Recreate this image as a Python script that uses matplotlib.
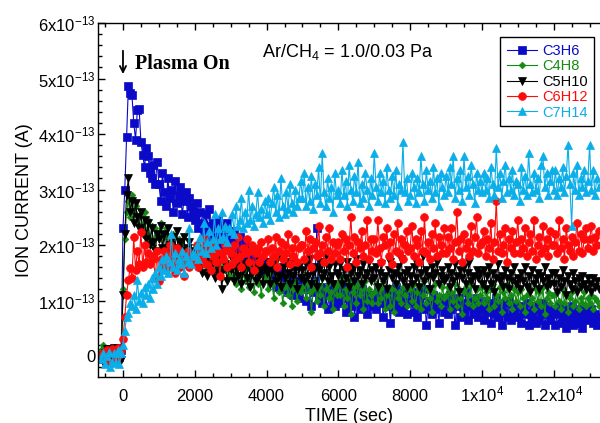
import numpy as np
import matplotlib
matplotlib.use("Agg")
import matplotlib.pyplot as plt
from matplotlib.ticker import MultipleLocator, FuncFormatter

plt.rcParams['font.family'] = ['Liberation Sans', 'DejaVu Sans']
plt.rcParams['mathtext.fontset'] = 'custom'
plt.rcParams['mathtext.rm'] = 'Liberation Sans'
plt.rcParams['mathtext.it'] = 'Liberation Sans:italic'
plt.rcParams['mathtext.bf'] = 'Liberation Sans:bold'

# ---- time axis (s) ----
t_pre = list(range(-600, 0, 50))          # before plasma
t_early = list(range(0, 1000, 50))        # ignition
t_late = list(range(1000, 13300, 50))     # steady part
time = np.array(t_pre + t_early + t_late, dtype=float)

SCALE = 1e-13  # values below are in units of 1e-13 A

# ---- C3H6 ----
c3h6_pre = [0.05, -0.05, 0.1, 0.0, -0.08, 0.12, 0.02, -0.06, 0.08, 0.15, -0.02, 0.1]
c3h6_early = [2.3, 3.0, 3.95, 4.86, 4.74, 4.7, 4.2, 3.9, 4.43, 4.45,
              3.86, 3.62, 3.4, 3.75, 3.6, 3.3, 3.2, 3.45, 3.1, 3.5]
c3h6_late = [3.1, 2.8, 3.3, 2.95, 2.7, 3.2, 2.85, 3.0, 2.6, 3.15, 2.75, 2.9, 3.05, 2.55, 2.8, 2.95, 2.5, 2.85, 2.7, 2.6,
             2.45, 2.75, 2.3, 2.6, 2.4, 2.2, 2.55, 2.35, 2.65, 2.15, 2.4, 2.3, 2.05, 2.45, 2.2, 2.35, 2.0, 2.25, 2.4, 2.1,
             2.1, 1.9, 2.25, 2.0, 1.8, 2.15, 1.95, 1.75, 2.05, 1.85, 1.7, 1.95, 1.6, 1.8, 1.9, 1.65, 1.75, 1.5, 1.7, 1.6,
             1.55, 1.7, 1.4, 1.6, 1.35, 1.5, 1.25, 1.45, 1.55, 1.2, 1.35, 1.4, 1.15, 1.3, 1.45, 1.1, 1.25, 1.35, 1.05, 1.3,
             1.25, 1.4, 1.0, 1.2, 1.3, 0.9, 1.15, 1.35, 2.3, 1.05, 1.2, 0.95, 1.25, 1.1, 0.85, 1.15, 1.3, 1.0, 0.9, 1.1,
             1.2, 0.95, 1.1, 1.25, 0.8, 1.05, 1.15, 0.9, 1.3, 0.7, 1.0, 1.15, 0.85, 1.2, 0.95, 1.05, 0.75, 1.1, 1.0, 0.9,
             1.1, 0.85, 1.2, 0.95, 1.05, 0.7, 1.15, 0.9, 1.0, 0.6, 1.1, 0.85, 1.25, 0.95, 0.8, 1.05, 0.9, 1.15, 0.75, 1.0,
             0.95, 1.15, 0.8, 1.05, 0.7, 0.95, 1.1, 0.85, 1.2, 0.55, 0.9, 1.0, 0.75, 1.1, 0.85, 0.95, 0.6, 1.05, 0.9, 0.8,
             1.0, 0.75, 1.1, 0.85, 0.95, 0.55, 0.9, 1.05, 0.7, 0.95, 0.8, 1.15, 0.65, 0.9, 1.0, 0.75, 0.85, 1.05, 0.7, 0.9,
             0.85, 0.65, 1.0, 0.8, 0.95, 0.6, 0.85, 0.75, 1.05, 0.7, 0.9, 0.55, 0.8, 0.95, 0.7, 1.0, 0.65, 0.85, 0.75, 0.9,
             0.7, 0.9, 0.6, 0.85, 0.75, 0.95, 0.55, 0.8, 0.7, 0.9, 0.6, 0.85, 0.65, 0.8, 0.95, 0.55, 0.75, 0.85, 0.65, 0.8,
             0.8, 0.55, 0.75, 0.9, 0.6, 0.7, 0.85, 0.5, 0.75, 0.65, 0.9, 0.55, 0.8, 0.7, 0.6, 0.85, 0.5, 0.75, 0.65, 0.8,
             0.7, 0.85, 0.6, 0.75, 0.55, 0.7]

# ---- C4H8 ----
c4h8_pre = [0.1, 0.2, -0.05, 0.08, 0.15, 0.0, -0.1, 0.12, 0.05, 0.1, -0.05, 0.08]
c4h8_early = [1.2, 2.1, 2.6, 2.8, 2.5, 2.9, 2.6, 2.7, 2.4, 2.5,
              2.55, 2.3, 2.6, 2.2, 2.45, 2.1, 2.35, 2.0, 2.3, 2.15]
c4h8_late = [2.2, 2.4, 1.95, 2.15, 2.3, 1.9, 2.05, 1.8, 2.2, 1.95, 1.75, 2.1, 1.9, 2.0, 1.7, 1.95, 1.85, 1.65, 1.9, 1.8,
             1.9, 1.7, 1.85, 1.6, 1.95, 1.75, 1.5, 1.8, 1.65, 1.85, 1.55, 1.7, 1.45, 1.75, 1.6, 1.4, 1.7, 1.55, 1.65, 1.45,
             1.65, 1.4, 1.55, 1.3, 1.6, 1.45, 1.2, 1.5, 1.35, 1.6, 1.25, 1.45, 1.55, 1.15, 1.4, 1.3, 1.5, 1.1, 1.35, 1.45,
             1.4, 1.2, 1.5, 1.3, 1.05, 1.35, 1.45, 1.15, 1.3, 0.95, 1.25, 1.4, 1.1, 1.3, 0.9, 1.2, 1.35, 1.0, 1.25, 1.15,
             1.25, 1.4, 1.05, 1.3, 1.15, 0.8, 1.2, 1.35, 1.0, 1.25, 1.1, 1.4, 0.9, 1.2, 1.3, 1.05, 1.15, 0.85, 1.25, 1.1,
             1.3, 1.1, 1.4, 0.9, 1.2, 1.05, 1.35, 0.75, 1.15, 1.25, 0.95, 1.3, 1.1, 1.2, 0.85, 1.35, 1.0, 1.2, 1.1, 0.95,
             1.15, 1.3, 0.95, 1.2, 1.05, 1.35, 0.85, 1.1, 1.25, 0.9, 1.2, 0.8, 1.3, 1.05, 1.15, 0.95, 1.25, 1.1, 0.9, 1.2,
             1.2, 1.0, 1.3, 0.9, 1.15, 1.25, 0.85, 1.1, 1.35, 0.95, 1.2, 1.05, 0.8, 1.15, 1.3, 1.0, 1.1, 0.9, 1.25, 1.05,
             1.1, 1.25, 0.85, 1.15, 1.0, 1.3, 0.9, 1.2, 1.05, 0.75, 1.15, 1.25, 0.95, 1.1, 1.3, 0.9, 1.05, 1.2, 0.95, 1.1,
             1.25, 0.95, 1.15, 1.05, 0.85, 1.2, 1.3, 0.9, 1.1, 1.0, 1.25, 0.8, 1.15, 1.05, 1.3, 0.95, 1.1, 0.85, 1.2, 1.0,
             1.15, 0.9, 1.2, 1.05, 0.8, 1.1, 1.25, 0.95, 1.05, 0.85, 1.2, 1.0, 1.15, 0.9, 1.25, 0.75, 1.05, 1.15, 0.95, 1.1,
             1.1, 0.9, 1.15, 1.0, 0.85, 1.2, 0.95, 1.1, 0.8, 1.05, 1.15, 0.9, 1.0, 1.2, 0.85, 1.05, 0.95, 1.15, 0.9, 1.05,
             0.95, 1.1, 0.85, 1.05, 1.0, 0.9]

# ---- C5H10 ----
c5h10_pre = [0.0, -0.1, 0.05, 0.12, -0.05, 0.1, -0.12, 0.15, 0.08, 0.0, 0.12, -0.08]
c5h10_early = [1.1, 2.2, 2.9, 3.2, 2.6, 2.8, 2.4, 2.75, 2.5, 2.3,
               2.6, 2.2, 2.45, 2.1, 2.4, 2.0, 2.3, 2.05, 1.9, 2.2]
c5h10_late = [2.1, 2.35, 1.95, 2.2, 1.85, 2.3, 2.0, 1.8, 2.15, 1.95, 2.25, 1.75, 2.05, 1.9, 2.15, 1.7, 1.95, 2.05, 1.8, 1.9,
              1.75, 1.95, 1.6, 1.85, 1.5, 1.75, 1.9, 1.45, 1.7, 1.6, 1.8, 1.4, 1.65, 1.5, 1.75, 1.2, 1.55, 1.65, 1.35, 1.6,
              1.55, 1.75, 1.35, 1.6, 1.45, 1.8, 1.3, 1.55, 1.65, 1.4, 1.7, 1.25, 1.5, 1.6, 1.35, 1.75, 1.45, 1.55, 1.3, 1.6,
              1.5, 1.7, 1.3, 1.55, 1.65, 1.35, 1.75, 1.45, 1.25, 1.6, 1.4, 1.7, 1.5, 1.3, 1.65, 1.45, 1.55, 1.2, 1.6, 1.4,
              1.55, 1.35, 1.65, 1.45, 1.75, 1.3, 1.5, 1.6, 1.25, 1.55, 1.7, 1.4, 1.5, 1.8, 1.35, 1.6, 1.45, 1.3, 1.65, 1.5,
              1.45, 1.65, 1.3, 1.55, 1.4, 1.7, 1.25, 1.5, 1.6, 1.35, 1.75, 1.45, 1.55, 1.3, 1.65, 1.4, 1.5, 1.7, 1.35, 1.55,
              1.4, 1.6, 1.25, 1.5, 1.65, 1.35, 1.45, 1.2, 1.55, 1.7, 1.4, 1.5, 1.3, 1.6, 1.45, 1.75, 1.35, 1.5, 1.25, 1.55,
              1.45, 1.3, 1.6, 1.4, 1.65, 1.25, 1.5, 1.8, 1.35, 1.55, 1.45, 1.2, 1.6, 1.4, 1.5, 1.7, 1.3, 1.45, 1.55, 1.35,
              1.4, 1.6, 1.25, 1.5, 1.35, 1.65, 1.45, 1.15, 1.55, 1.4, 1.6, 1.3, 1.5, 1.7, 1.35, 1.45, 1.2, 1.55, 1.4, 1.5,
              1.3, 1.55, 1.2, 1.45, 1.6, 1.3, 1.5, 1.15, 1.4, 1.65, 1.35, 1.45, 1.25, 1.55, 1.4, 1.2, 1.5, 1.35, 1.6, 1.3,
              1.4, 1.2, 1.5, 1.35, 1.6, 1.25, 1.45, 1.15, 1.55, 1.3, 1.4, 1.5, 1.2, 1.45, 1.35, 1.6, 1.25, 1.4, 1.3, 1.5,
              1.3, 1.5, 1.15, 1.4, 1.25, 1.55, 1.35, 1.1, 1.45, 1.3, 1.2, 1.5, 1.35, 1.15, 1.4, 1.25, 1.45, 1.3, 1.2, 1.4,
              1.3, 1.15, 1.4, 1.25, 1.35, 1.2]

# ---- C6H12 ----
c6h12_pre = [0.0, 0.05, -0.05, 0.1, -0.1, 0.08, 0.12, 0.05, -0.08, 0.15, 0.02, 0.1]
c6h12_early = [0.3, 0.7, 1.1, 1.37, 1.59, 1.4, 2.14, 1.55, 1.9, 1.65,
               2.24, 1.6, 2.0, 1.7, 1.85, 1.65, 1.8, 1.75, 1.4, 1.9]
c6h12_late = [1.35, 1.75, 1.6, 1.9, 1.55, 1.8, 2.0, 1.65, 1.85, 1.5, 1.95, 1.7, 1.6, 1.85, 1.45, 1.75, 1.9, 1.6, 1.8, 1.7,
              1.8, 2.0, 1.6, 1.9, 1.75, 2.1, 1.65, 1.85, 1.95, 1.55, 1.8, 2.05, 1.7, 1.9, 1.45, 1.85, 1.75, 2.0, 1.6, 1.9,
              1.85, 1.65, 2.0, 1.75, 2.15, 1.8, 1.6, 1.95, 1.85, 2.1, 1.7, 1.9, 2.0, 1.55, 1.85, 1.95, 1.7, 2.05, 1.8, 1.9,
              1.9, 2.1, 1.7, 1.95, 1.8, 2.15, 1.6, 1.9, 2.05, 1.75, 2.0, 1.85, 2.2, 1.65, 1.95, 1.8, 2.1, 1.7, 1.95, 2.0,
              2.0, 1.75, 2.25, 1.9, 2.1, 1.6, 1.95, 2.05, 1.8, 2.35, 1.85, 2.0, 1.7, 2.15, 1.9, 2.3, 1.75, 2.05, 1.85, 2.0,
              2.05, 1.75, 2.2, 1.9, 2.1, 1.6, 2.0, 2.5, 1.85, 2.15, 1.7, 2.05, 1.95, 2.25, 1.8, 2.0, 2.45, 1.75, 2.1, 1.9,
              2.1, 1.85, 2.45, 1.95, 1.7, 2.15, 2.0, 2.3, 1.8, 2.05, 1.65, 2.2, 1.9, 2.4, 1.85, 2.1, 1.75, 2.0, 2.25, 1.9,
              1.95, 2.35, 1.8, 2.1, 2.0, 1.7, 2.25, 1.9, 2.5, 1.85, 2.05, 1.75, 2.2, 1.95, 2.4, 1.8, 2.15, 2.0, 1.85, 2.3,
              1.85, 2.15, 1.95, 2.3, 1.75, 2.05, 2.6, 1.9, 2.1, 1.7, 2.2, 1.95, 2.05, 1.8, 2.35, 1.9, 2.15, 2.5, 1.85, 2.0,
              2.05, 2.25, 1.8, 2.1, 1.95, 2.4, 1.75, 2.05, 2.8, 1.9, 2.2, 1.85, 2.0, 2.3, 1.7, 2.1, 1.95, 2.25, 1.85, 2.05,
              2.45, 1.85, 2.1, 1.95, 2.3, 1.8, 2.05, 2.2, 1.9, 2.45, 1.75, 2.0, 2.15, 1.85, 2.35, 1.95, 2.1, 1.8, 2.25, 2.0,
              2.0, 2.2, 1.85, 2.45, 1.95, 2.1, 1.75, 2.3, 2.0, 1.9, 2.15, 1.8, 2.05, 2.4, 1.9, 2.2, 1.85, 2.1, 2.3, 1.95,
              2.1, 2.35, 1.9, 2.15, 2.0, 2.25]

# ---- C7H14 ----
c7h14_pre = [-0.05, 0.05, -0.15, 0.0, 0.08, -0.2, -0.1, 0.05, -0.12, 0.1, -0.15, 0.05]
c7h14_early = [0.2, 0.45, 0.7, 0.77, 0.95, 0.9, 1.1, 0.85, 1.37, 1.0,
               1.13, 0.95, 1.25, 1.1, 1.3, 1.05, 1.4, 1.2, 1.5, 1.3]
c7h14_late = [1.6, 1.45, 1.75, 1.55, 1.8, 1.5, 1.7, 2.2, 1.6, 1.85, 1.55, 1.75, 1.65, 1.9, 1.5, 1.8, 1.7, 2.3, 1.65, 1.85,
              1.8, 2.0, 1.75, 2.15, 1.9, 2.4, 1.85, 2.05, 2.25, 1.95, 2.1, 2.55, 2.0, 2.3, 2.1, 2.6, 2.15, 2.35, 2.05, 2.3,
              2.25, 2.55, 2.2, 2.7, 2.35, 2.45, 2.85, 2.3, 2.6, 2.4, 3.0, 2.45, 2.7, 2.35, 2.55, 2.95, 2.5, 2.65, 2.4, 2.8,
              2.55, 2.85, 2.45, 2.75, 3.05, 2.6, 2.9, 2.5, 3.2, 2.7, 2.55, 2.95, 2.65, 3.1, 2.75, 2.6, 3.0, 2.7, 2.85, 3.15,
              2.85, 3.3, 2.7, 3.05, 2.8, 3.25, 2.65, 3.1, 2.9, 3.4, 2.75, 3.65, 2.95, 2.7, 3.2, 2.85, 3.05, 2.6, 3.3, 2.9,
              3.0, 2.75, 3.35, 2.9, 3.15, 2.7, 3.45, 3.0, 2.8, 3.25, 2.95, 3.5, 2.75, 3.1, 2.85, 3.3, 3.0, 2.7, 3.2, 2.9,
              3.65, 3.05, 2.8, 3.3, 2.95, 3.15, 2.75, 3.4, 3.0, 2.85, 3.25, 2.9, 3.35, 2.7, 3.1, 3.0, 3.85, 2.95, 3.2, 2.8,
              2.9, 3.3, 3.05, 2.75, 3.2, 2.95, 3.6, 3.1, 2.8, 3.35, 3.0, 3.15, 2.85, 3.4, 2.95, 3.2, 2.7, 3.3, 3.05, 2.9,
              3.25, 2.95, 3.4, 3.1, 3.6, 2.85, 3.2, 3.0, 3.35, 2.8, 3.6, 3.05, 3.25, 2.9, 3.45, 3.1, 2.75, 3.3, 3.0, 3.15,
              2.95, 3.3, 3.0, 3.2, 2.85, 3.4, 3.1, 2.9, 3.75, 3.05, 3.3, 2.85, 3.15, 3.45, 2.95, 3.2, 3.0, 3.35, 2.9, 3.15,
              3.1, 2.8, 3.4, 3.0, 3.25, 2.9, 3.65, 3.1, 2.95, 3.3, 3.0, 3.2, 2.85, 3.45, 3.6, 3.05, 3.3, 2.9, 3.15, 3.35,
              3.0, 3.35, 2.9, 3.2, 3.05, 3.4, 2.95, 3.25, 3.8, 3.1, 2.35, 3.3, 3.0, 3.45, 2.9, 3.2, 3.05, 3.35, 2.95, 3.15,
              3.8, 3.0, 3.35, 2.9, 3.2, 3.05]

series_names = ["C3H6", "C4H8", "C5H10", "C6H12", "C7H14"]
series_vals = [c3h6_pre + c3h6_early + c3h6_late,
               c4h8_pre + c4h8_early + c4h8_late,
               c5h10_pre + c5h10_early + c5h10_late,
               c6h12_pre + c6h12_early + c6h12_late,
               c7h14_pre + c7h14_early + c7h14_late]
colors = ["#0a0ac8", "#138a13", "#000000", "#ff0a0a", "#0aaee8"]
markers = ["s", "D", "v", "o", "^"]
msizes = [5.5, 3.4, 5.6, 5.6, 5.6]

fig = plt.figure(figsize=(6.0, 4.23), dpi=100)
ax = fig.add_axes([98 / 600, 46 / 423, 502 / 600, 354 / 423])

for name, vals, c, m, ms in zip(series_names, series_vals, colors, markers, msizes):
    n = min(len(vals), len(time))
    y = np.array(vals[:n]) * SCALE
    ax.plot(time[:n], y, color=c, marker=m, markersize=ms, linewidth=0.8,
            markeredgewidth=0.5, markeredgecolor=c, label=name)

ax.set_xlim(-696, 13290)
ax.set_ylim(-0.378e-13, 6.0e-13)

ax.xaxis.set_major_locator(MultipleLocator(2000))
ax.xaxis.set_minor_locator(MultipleLocator(500))
ax.yaxis.set_major_locator(MultipleLocator(1e-13))
ax.yaxis.set_minor_locator(MultipleLocator(0.2e-13))


def xfmt(v, pos):
    v = int(round(v))
    if v == 10000:
        return r"1x10$^{4}$"
    if v == 12000:
        return r"1.2x10$^{4}$"
    return str(v)


def yfmt(v, pos):
    n = int(round(v / 1e-13))
    if n == 0:
        return "0"
    return r"%dx10$^{-13}$" % n


ax.xaxis.set_major_formatter(FuncFormatter(xfmt))
ax.yaxis.set_major_formatter(FuncFormatter(yfmt))

ax.tick_params(which='both', direction='in', top=True, right=False,
               labelsize=12, width=1.0)
ax.tick_params(axis='y', pad=2)
ax.tick_params(axis='x', pad=17.3)
ax.tick_params(which='major', length=5)
ax.tick_params(which='minor', length=3)
ax.spines['right'].set_visible(False)
for s in ['left', 'bottom', 'top']:
    ax.spines[s].set_linewidth(1.0)

fig.canvas.draw()
for lbl in ax.get_xticklabels():
    lbl.set_verticalalignment('baseline')

ax.set_xlabel("TIME (sec)", fontsize=13, labelpad=2.5)
ax.set_ylabel("ION CURRENT (A)", fontsize=13, labelpad=3.5)

ax.annotate("", xy=(0, 5.08e-13), xytext=(0, 5.5e-13),
            arrowprops=dict(arrowstyle="->", color="black", lw=1.3,
                            mutation_scale=11, shrinkA=0, shrinkB=0))
ax.text(330, 5.27e-13, "Plasma On", fontsize=14.5, fontweight='bold',
        family='Liberation Serif', va='center', ha='left')
ax.text(3870, 5.48e-13, r"Ar/CH$_4$ = 1.0/0.03 Pa", fontsize=13,
        va='center', ha='left')

leg = ax.legend(loc='upper right', bbox_to_anchor=(0.988, 0.960),
                borderaxespad=0, fontsize=10.5, frameon=True, fancybox=False,
                edgecolor='black', framealpha=1, handlelength=2.1,
                handletextpad=0.3, labelspacing=0.1, borderpad=0.45,
                markerscale=1.0)
leg.get_frame().set_linewidth(1.0)
for txt, c in zip(leg.get_texts(), colors):
    txt.set_color(c)

fig.savefig("out.png", dpi=100)
